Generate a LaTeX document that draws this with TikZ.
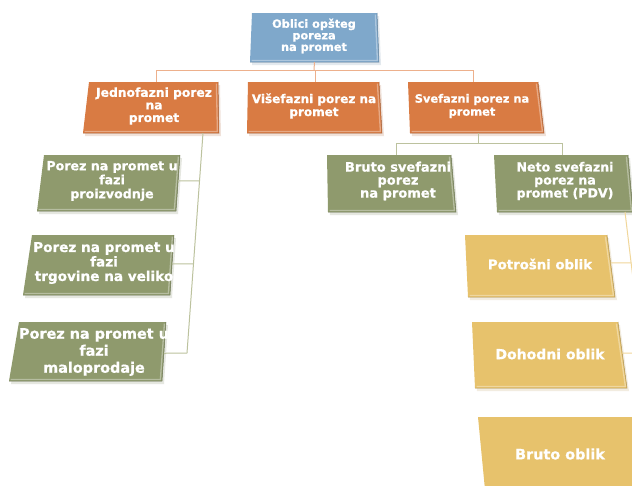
\documentclass[tikz,border=0pt]{standalone}
\usepackage{fontspec}
\setmainfont{DejaVu Sans}[BoldFeatures={FakeBold=0.8}]
\usetikzlibrary{calc}
\definecolor{bluebox}{HTML}{7FA8CB}
\definecolor{orbox}{HTML}{D97B43}
\definecolor{grbox}{HTML}{8F9A6D}
\definecolor{yebox}{HTML}{E7C26C}
\definecolor{orline}{HTML}{EDB08C}
\definecolor{grline}{HTML}{BCC29E}
\definecolor{yeline}{HTML}{F1D79A}
\newcommand{\fsz}[2]{\fontsize{#1}{#2}\selectfont\bfseries}
% \qbox{name}{colour}{TL}{TR}{BR}{BL}
\newcommand{\qbox}[6]{%
  \coordinate (#1-tl) at (#3);
  \coordinate (#1-tr) at (#4);
  \coordinate (#1-br) at (#5);
  \coordinate (#1-bl) at (#6);
  \fill[#2!80!black, opacity=0.18] ($(#1-tl)+(2,3)$) -- ($(#1-tr)+(2,3)$) -- ($(#1-br)+(2,3)$) -- ($(#1-bl)+(2,3)$) -- cycle;
  \fill[fill=#2] (#1-tl) -- (#1-tr) -- (#1-br) -- (#1-bl) -- cycle;
  \draw[#2!65!white, line width=1.3pt] ($(#1-tr)+(-1.6,1.6)$) -- ($(#1-br)+(-1.6,-1.6)$) -- ($(#1-bl)+(1.6,-1.6)$);
  \draw[#2!75!black, line width=0.5pt] (#1-tr) -- (#1-br) -- (#1-bl);
}
\begin{document}
\begin{tikzpicture}[x=1pt,y=-1pt,
  txt/.style={text=white, align=center, inner sep=0pt},
  oconn/.style={draw=orline, line width=1pt},
  gconn/.style={draw=grline, line width=1pt},
  yconn/.style={draw=yeline, line width=1pt}]
\useasboundingbox (0,0) rectangle (632,485);
\clip (0,0) rectangle (632,485);
\fill[white] (0,0) rectangle (632,485);

% boxes
\qbox{top}{bluebox}{252,13}{377,13}{379,62}{250,62}
\qbox{jed}{orbox}{89,82}{218,82}{219,133}{83,133}
\qbox{vis}{orbox}{248,82}{379,82}{382,133}{247,133}
\qbox{sve}{orbox}{408,82}{538,82}{544,133}{410,133}
\qbox{ga}{grbox}{44,155}{180,155}{176,211}{37,211}
\qbox{gb}{grbox}{32,235}{174,235}{170,295}{23,295}
\qbox{gc}{grbox}{19,322}{166,322}{162,381}{9,381}
\qbox{bsv}{grbox}{327,155}{451,155}{456,212}{328,212}
\qbox{neto}{grbox}{494,155}{628,155}{633,212}{497,212}
\qbox{pot}{yebox}{465,235}{607,235}{615,297}{468,297}
\qbox{doh}{yebox}{472,322}{618,322}{627,388}{475,388}
\qbox{bro}{yebox}{478,417}{650,417}{660,500}{486,500}

% texts
\node[txt, font=\fsz{11.3}{11.6}] (ttop) at (314,36) {Oblici opšteg\\poreza\\na promet};
\node[txt, font=\fsz{12.3}{12.6}] (tjed) at (154,106) {Jednofazni porez\\na\\promet};
\node[txt, font=\fsz{12}{13}] (tvis) at (314,106) {Višefazni porez na\\promet};
\node[txt, font=\fsz{11.4}{13}] (tsve) at (472,106) {Svefazni porez na\\promet};
\node[txt, font=\fsz{12.6}{14}] (tga) at (112,181) {Porez na promet u\\fazi\\proizvodnje};
\node[txt, font=\fsz{13.6}{14.5}] (tgb) at (104,263) {Porez na promet u\\fazi\\trgovine na veliko};
\node[txt, font=\fsz{14.4}{17}] (tgc) at (94,352) {Porez na promet u\\fazi\\maloprodaje};
\node[txt, font=\fsz{13}{13}] (tbsv) at (398,181) {Bruto svefazni\\porez\\na promet};
\node[txt, font=\fsz{12.6}{13}] (tneto) at (565,181) {Neto svefazni\\porez na\\promet (PDV)};
\node[txt, font=\fsz{13.3}{14}] (tpot) at (540,264) {Potrošni oblik};
\node[txt, font=\fsz{14}{15}] (tdoh) at (550,354) {Dohodni oblik};
\node[txt, font=\fsz{14.4}{15}] (tbro) at (560,454) {Bruto oblik};

% connectors: top level
\coordinate (topb) at ($(top-bl)!0.5!(top-br)$);
\coordinate (hubA) at (314,70);
\coordinate (jedt) at (156,82);
\coordinate (vist) at (315,82);
\coordinate (svet) at (473,82);
\draw[oconn] (topb) -- (hubA);
\draw[oconn] (hubA) -| (jedt);
\draw[oconn] (hubA) -| (vist);
\draw[oconn] (hubA) -| (svet);

% Jednofazni children
\coordinate (jedb) at (203,133);
\coordinate (jspine) at (187,353);
\draw[gconn] (jedb) -- (jspine);
\draw[gconn] ($(jedb)!0.218!(jspine)$) -- ($(ga-tr)!0.46!(ga-br)$);
\draw[gconn] ($(jedb)!0.595!(jspine)$) -- ($(gb-tr)!0.48!(gb-br)$);
\draw[gconn] (jspine) -- ($(gc-tr)!0.53!(gc-br)$);

% Svefazni children
\coordinate (sveb) at (478,133);
\coordinate (hubB) at (478,143);
\coordinate (bsvt) at (396,155);
\coordinate (netot) at (562,155);
\draw[gconn] (sveb) -- (hubB);
\draw[gconn] (hubB) -| (bsvt);
\draw[gconn] (hubB) -| (netot);

% Neto children
\coordinate (netob) at (625,212);
\coordinate (nspine) at (650,420);
\draw[yconn] (netob) -- (nspine);
\draw[yconn] ($(pot-tr)!0.45!(pot-br)$) -- ($(netob)!0.245!(nspine)$);
\draw[yconn] ($(doh-tr)!0.47!(doh-br)$) -- ($(netob)!0.678!(nspine)$);
\end{tikzpicture}
\end{document}
